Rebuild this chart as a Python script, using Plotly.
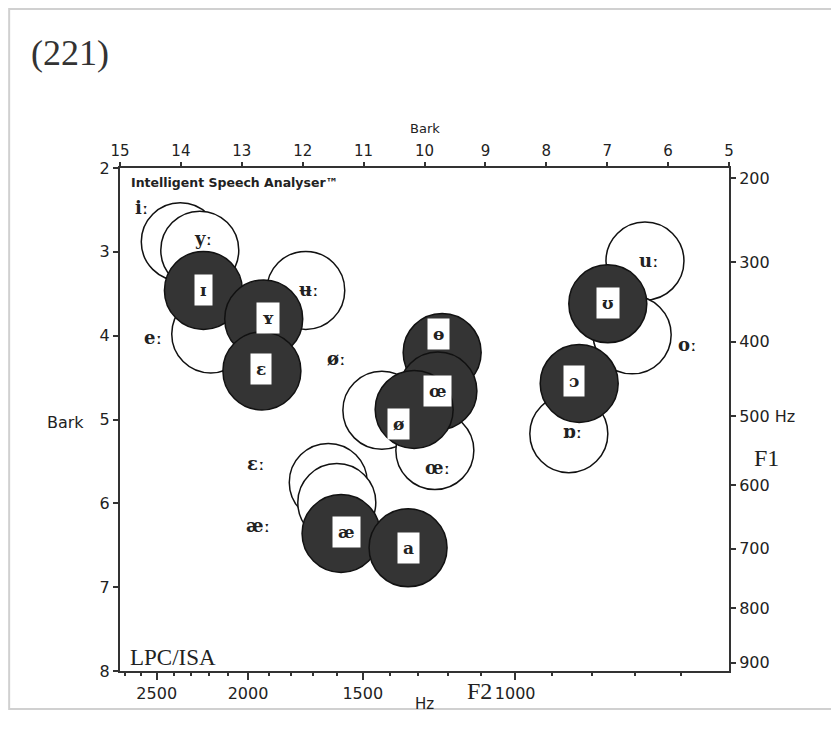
import numpy as np
import plotly.graph_objects as go

# ---------------- data ----------------
# Long vowels (open circles): F2 and F1 in Bark
long_labels = ["iː", "yː", "eː", "ʉː", "øː", "œː", "ɛː", "æː", "uː", "oː", "ɒː"]
long_f2_bark = [14.01, 13.69, 13.51, 11.95, 10.70, 9.83, 11.58, 11.44, 6.38, 6.59, 7.63]
long_f1_bark = [2.88, 2.98, 3.98, 3.46, 4.89, 5.37, 5.75, 5.99, 3.11, 3.99, 5.17]

# Short vowels (dark circles): F2 and F1 in Bark
short_labels = ["ɪ", "ʏ", "ɛ", "ɵ", "œ", "ø", "æ", "a", "ʊ", "ɔ"]
short_f2_bark = [13.63, 12.64, 12.67, 9.71, 9.78, 10.17, 11.37, 10.27, 6.99, 7.46]
short_f1_bark = [3.46, 3.80, 4.42, 4.20, 4.66, 4.88, 6.36, 6.53, 3.62, 4.57]

# Axis ticks
bark_top_ticks = [5, 6, 7, 8, 9, 10, 11, 12, 13, 14, 15]
bark_left_ticks = [2, 3, 4, 5, 6, 7, 8]
f2_hz_major = [2500, 2000, 1500, 1000]
f2_hz_minor = [2700, 2600, 2500, 2400, 2300, 2200, 2100, 2000, 1900, 1800, 1700,
               1600, 1500, 1400, 1300, 1200, 1100, 1000, 900, 800, 700, 600]
f1_hz_ticks = [200, 300, 400, 500, 600, 700, 800, 900]

# label offsets in pixels (style)
long_dx = [-39, 3, -58, 3, -45, 3, -72, -79, 4, 55, 4]
long_dy = [-34, -12, 4, -1, -52, 17, -19, 23, -1, 10, -2]
short_dx = [0, 4, -1, -4, 0, -16, 5, 0, 0, -5]
short_dy = [0, -1, -2, -18, 0, 15, -2, 0, -1, -2]


def hz_to_bark(f):
    return 7.0 * np.arcsinh(np.asarray(f, dtype=float) / 650.0)


INK = "#222222"
SANS = "DejaVu Sans"
SERIF = "DejaVu Serif"
CIRCLE = 78

fig = go.Figure()

fig.add_trace(go.Scatter(
    x=long_f2_bark, y=long_f1_bark, mode="markers",
    marker=dict(size=CIRCLE, color="white", line=dict(color="#111111", width=1.5)),
    hoverinfo="text", text=long_labels, showlegend=False,
))
fig.add_trace(go.Scatter(
    x=short_f2_bark, y=short_f1_bark, mode="markers",
    marker=dict(size=CIRCLE, color="#343434", line=dict(color="#111111", width=1.5)),
    hoverinfo="text", text=short_labels, showlegend=False,
))
# invisible trace to activate the secondary axes
fig.add_trace(go.Scatter(x=[15, 5], y=[2, 8], xaxis="x2", yaxis="y2",
                         mode="markers", marker=dict(opacity=0), hoverinfo="skip",
                         showlegend=False))

annotations = []
for lab, x, y, dx, dy in zip(long_labels, long_f2_bark, long_f1_bark, long_dx, long_dy):
    annotations.append(dict(x=x, y=y, xref="x", yref="y", text=f"<b>{lab}</b>",
                            showarrow=False, xshift=dx, yshift=-dy,
                            font=dict(family=SERIF, size=18, color=INK)))
for lab, x, y, dx, dy in zip(short_labels, short_f2_bark, short_f1_bark, short_dx, short_dy):
    annotations.append(dict(x=x, y=y, xref="x", yref="y", text=f"<b>{lab}</b>",
                            showarrow=False, xshift=dx, yshift=-dy, bgcolor="white",
                            borderpad=5,
                            font=dict(family=SERIF, size=17, color=INK)))

# texts around the plot
annotations += [
    dict(x=-0.149, y=1.229, xref="paper", yref="paper", text="(221)", showarrow=False,
         xanchor="left", yanchor="middle",
         font=dict(family="Liberation Serif", size=36, color="#333333")),
    dict(x=0.0148, y=0.972, xref="paper", yref="paper",
         text="<b>Intelligent Speech Analyser™</b>", showarrow=False,
         xanchor="left", yanchor="middle", font=dict(family=SANS, size=12.5, color=INK)),
    dict(x=0.0131, y=0.026, xref="paper", yref="paper", text="LPC/ISA", showarrow=False,
         xanchor="left", yanchor="middle",
         font=dict(family="Liberation Serif", size=23, color=INK)),
    dict(x=0.5008, y=1.079, xref="paper", yref="paper", text="Bark", showarrow=False,
         xanchor="center", yanchor="middle", font=dict(family=SANS, size=13, color=INK)),
    dict(x=-0.0903, y=0.495, xref="paper", yref="paper", text="Bark", showarrow=False,
         xanchor="center", yanchor="middle", font=dict(family=SANS, size=16, color=INK)),
    dict(x=0.5008, y=-0.0656, xref="paper", yref="paper", text="Hz", showarrow=False,
         xanchor="center", yanchor="middle", font=dict(family=SANS, size=15, color=INK)),
    dict(x=0.5895, y=-0.040, xref="paper", yref="paper", text="F2", showarrow=False,
         xanchor="center", yanchor="middle",
         font=dict(family="Liberation Serif", size=24, color=INK)),
    dict(x=1.061, y=0.4235, xref="paper", yref="paper", text="F1", showarrow=False,
         xanchor="center", yanchor="middle",
         font=dict(family="Liberation Serif", size=24, color=INK)),
]

f2_minor_vals = hz_to_bark(f2_hz_minor).tolist()
f2_major_vals = hz_to_bark(f2_hz_major).tolist()
f1_vals = hz_to_bark(f1_hz_ticks).tolist()
f1_text = [f"{v} Hz" if v == 500 else str(v) for v in f1_hz_ticks]

axis_common = dict(showgrid=False, zeroline=False, showline=True, linewidth=2,
                   linecolor="#333333", tickcolor="#333333",
                   tickfont=dict(family=SANS, size=16, color=INK))

fig.update_layout(
    width=839, height=734,
    margin=dict(l=112, r=118, t=160, b=71),
    paper_bgcolor="white", plot_bgcolor="white",
    annotations=annotations,
    xaxis=dict(range=[15, 5], tickmode="array", tickvals=f2_major_vals,
               ticktext=[str(v) for v in f2_hz_major], ticks="outside", ticklen=7,
               tickwidth=1.5,
               minor=dict(tickmode="array", tickvals=f2_minor_vals, ticks="outside",
                          ticklen=3, tickwidth=1.5, tickcolor="#333333"),
               **axis_common),
    xaxis2=dict(range=[15, 5], overlaying="x", side="top", tickmode="array",
                tickvals=bark_top_ticks, ticktext=[str(v) for v in bark_top_ticks],
                ticks="outside", ticklen=4, tickwidth=1.5,
                **{**axis_common, "tickfont": dict(family=SANS, size=15, color=INK)}),
    yaxis=dict(range=[8, 2], tickmode="array", tickvals=bark_left_ticks,
               ticktext=[str(v) for v in bark_left_ticks], ticks="outside", ticklen=5,
               tickwidth=1.5, **axis_common),
    yaxis2=dict(range=[8, 2], overlaying="y", side="right", tickmode="array",
                tickvals=f1_vals, ticktext=f1_text, ticks="outside", ticklen=5,
                tickwidth=1.5, **axis_common),
    shapes=[dict(type="rect", xref="paper", yref="paper", x0=-0.182, x1=1.174,
                 y0=-0.0755, y1=1.316, line=dict(color="#d0d0d0", width=2),
                 layer="below")],
)

fig.write_html("out.html")
